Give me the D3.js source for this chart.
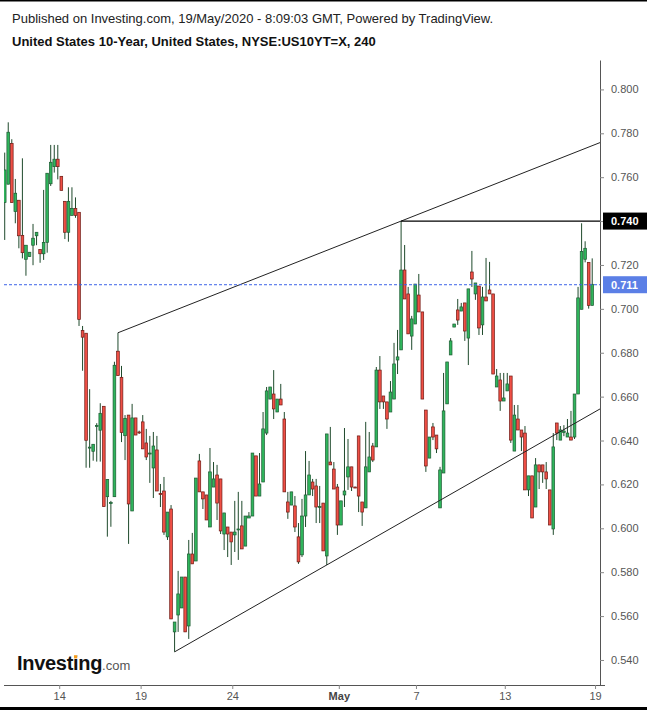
<!DOCTYPE html>
<html><head><meta charset="utf-8">
<script src="https://cdn.jsdelivr.net/npm/d3@7"></script>
<style>html,body{margin:0;padding:0;background:#fff;}svg{display:block;font-family:"Liberation Sans",Arial,sans-serif;}</style>
</head><body><svg id="chart" width="647" height="710"></svg>
<script>
// ---- Data (4-hour candles, US 10Y yield) ----
const opens=[0.7484,0.7568,0.7754,0.7443,0.7495,0.7335,0.7226,0.7238,0.7290,0.7333,0.7271,0.7251,0.7303,0.7570,0.7648,0.7682,0.7604,0.7490,0.7349,0.7426,0.7458,0.7440,0.6902,0.6889,0.6366,0.6351,0.6464,0.6447,0.6556,0.6144,0.6114,0.6144,0.6807,0.6688,0.6422,0.6516,0.6079,0.6503,0.6439,0.6485,0.6389,0.6340,0.6275,0.6357,0.6158,0.6170,0.5961,0.6088,0.5528,0.5605,0.5637,0.5778,0.5555,0.5883,0.5851,0.6307,0.6166,0.6152,0.6006,0.6188,0.6243,0.6225,0.5974,0.6006,0.5983,0.5970,0.5995,0.6011,0.5919,0.6047,0.6056,0.6330,0.6147,0.6211,0.6434,0.6589,0.6612,0.6530,0.6589,0.6498,0.6120,0.6106,0.6102,0.5961,0.5879,0.6056,0.6152,0.6211,0.6193,0.6097,0.6115,0.5874,0.6302,0.6270,0.6188,0.6015,0.6152,0.6234,0.6280,0.6188,0.6421,0.6120,0.6093,0.6257,0.6375,0.6371,0.6721,0.6603,0.6576,0.6530,0.6589,0.6767,0.6813,0.7177,0.7068,0.6876,0.6931,0.7063,0.6986,0.6539,0.6320,0.6462,0.6425,0.6093,0.6252,0.6567,0.6790,0.6917,0.6995,0.6990,0.7027,0.6867,0.7168,0.7068,0.7104,0.6927,0.7054,0.7086,0.7068,0.6644,0.6676,0.6580,0.6626,0.6694,0.6352,0.6498,0.6448,0.6434,0.6175,0.6239,0.6097,0.6289,0.6289,0.6257,0.6175,0.5997,0.6480,0.6402,0.6437,0.6416,0.6416,0.6416,0.6612,0.6998,0.7226,0.7212,0.7016];
const highs=[0.7712,0.7850,0.7773,0.7592,0.7495,0.7686,0.7290,0.7258,0.7387,0.7349,0.7271,0.7542,0.7618,0.7747,0.7747,0.7747,0.7604,0.7490,0.7554,0.7554,0.7508,0.7440,0.6922,0.6889,0.6634,0.6383,0.6479,0.6570,0.6556,0.6223,0.6125,0.6759,0.6891,0.6740,0.6516,0.6516,0.6567,0.6503,0.6445,0.6516,0.6453,0.6421,0.6439,0.6421,0.6202,0.6234,0.6074,0.6106,0.5573,0.5806,0.5778,0.5778,0.5947,0.5979,0.6229,0.6339,0.6166,0.6152,0.6366,0.6302,0.6289,0.6225,0.6070,0.6006,0.5983,0.6125,0.6166,0.6125,0.6056,0.6074,0.6343,0.6330,0.6343,0.6530,0.6644,0.6644,0.6721,0.6589,0.6658,0.6530,0.6166,0.6166,0.6147,0.6024,0.6134,0.6352,0.6307,0.6225,0.6225,0.6193,0.6115,0.6430,0.6462,0.6302,0.6202,0.6125,0.6457,0.6407,0.6280,0.6190,0.6421,0.6120,0.6485,0.6439,0.6389,0.6735,0.6785,0.6603,0.6576,0.6671,0.6845,0.6904,0.7400,0.7291,0.7100,0.6968,0.7113,0.7159,0.6986,0.6539,0.6416,0.6480,0.6425,0.6280,0.6708,0.6758,0.6867,0.6931,0.7045,0.7027,0.7027,0.7091,0.7264,0.7118,0.7104,0.7100,0.7232,0.7214,0.7068,0.6726,0.6708,0.6708,0.6708,0.6694,0.6562,0.6562,0.6448,0.6466,0.6239,0.6239,0.6320,0.6289,0.6289,0.6302,0.6175,0.6434,0.6480,0.6466,0.6470,0.6498,0.6535,0.6612,0.7100,0.7390,0.7308,0.7212,0.7230];
const lows=[0.7314,0.7568,0.7484,0.7390,0.7276,0.7230,0.7151,0.7238,0.7199,0.7290,0.7210,0.7223,0.7256,0.7560,0.7621,0.7590,0.7540,0.7318,0.7306,0.7426,0.7415,0.6922,0.6718,0.6276,0.6276,0.6308,0.6304,0.6304,0.6099,0.5962,0.6007,0.6144,0.6696,0.6393,0.6311,0.5929,0.6079,0.6425,0.6430,0.6362,0.6311,0.6207,0.6138,0.6170,0.6097,0.5970,0.5947,0.5587,0.5437,0.5528,0.5637,0.5528,0.5496,0.5838,0.5851,0.6166,0.6088,0.6038,0.6006,0.6188,0.6038,0.5974,0.5901,0.5869,0.5833,0.5892,0.5856,0.5906,0.5919,0.6047,0.6056,0.6147,0.6147,0.6211,0.6425,0.6589,0.6498,0.6530,0.6562,0.6166,0.6043,0.6106,0.5983,0.5838,0.5869,0.6006,0.6152,0.6147,0.6024,0.6024,0.5897,0.5833,0.6289,0.6179,0.5970,0.6015,0.6097,0.6175,0.6170,0.6184,0.6074,0.6011,0.6093,0.6257,0.6302,0.6371,0.6544,0.6544,0.6453,0.6530,0.6589,0.6703,0.6813,0.7045,0.6886,0.6813,0.6931,0.6986,0.6589,0.6257,0.6320,0.6402,0.6343,0.6093,0.6252,0.6567,0.6790,0.6917,0.6927,0.6990,0.6854,0.6744,0.7100,0.7041,0.6881,0.6881,0.7036,0.7068,0.6703,0.6644,0.6535,0.6580,0.6626,0.6389,0.6352,0.6448,0.6352,0.6175,0.6147,0.6047,0.6097,0.6179,0.6207,0.6179,0.6015,0.5970,0.6402,0.6402,0.6420,0.6416,0.6402,0.6407,0.6612,0.6998,0.7212,0.7001,0.7016];
const closes=[0.7633,0.7805,0.7484,0.7527,0.7333,0.7256,0.7290,0.7258,0.7322,0.7349,0.7251,0.7303,0.7618,0.7668,0.7682,0.7648,0.7540,0.7349,0.7490,0.7458,0.7426,0.6952,0.6871,0.6401,0.6370,0.6383,0.6468,0.6524,0.6099,0.6223,0.6117,0.6743,0.6696,0.6436,0.6501,0.6111,0.6503,0.6425,0.6435,0.6362,0.6325,0.6343,0.6375,0.6170,0.6156,0.5983,0.6074,0.5587,0.5573,0.5701,0.5778,0.5528,0.5883,0.5838,0.6229,0.6166,0.6134,0.6038,0.6257,0.6225,0.6115,0.5988,0.6070,0.5974,0.5938,0.5983,0.5997,0.5906,0.6056,0.6056,0.6343,0.6147,0.6202,0.6453,0.6626,0.6644,0.6544,0.6589,0.6562,0.6166,0.6074,0.6166,0.6006,0.5847,0.6056,0.6152,0.6243,0.6179,0.6097,0.6099,0.5897,0.6430,0.6289,0.6179,0.6015,0.6125,0.6170,0.6280,0.6188,0.6186,0.6147,0.6074,0.6280,0.6325,0.6311,0.6721,0.6576,0.6576,0.6498,0.6621,0.6749,0.6781,0.7177,0.7045,0.6886,0.6954,0.7113,0.6986,0.6589,0.6284,0.6416,0.6416,0.6362,0.6266,0.6535,0.6758,0.6854,0.6931,0.6949,0.7009,0.6899,0.7091,0.7136,0.7118,0.6913,0.7054,0.7036,0.7068,0.6703,0.6694,0.6580,0.6594,0.6658,0.6402,0.6516,0.6448,0.6416,0.6175,0.6239,0.6047,0.6289,0.6257,0.6257,0.6225,0.6015,0.6371,0.6434,0.6448,0.6443,0.6434,0.6402,0.6612,0.7050,0.7262,0.7276,0.7016,0.7112];

const xTickIndex=[15.4,38.4,64.3,94.4,116.2,141.3,166.8];
const xTickLabels=["14","19","24","May","7","13","19"];
const yTickValues=[0.54,0.56,0.58,0.60,0.62,0.64,0.66,0.68,0.70,0.72,0.74,0.76,0.78,0.80];
const lastPrice=0.711;
const resistanceLevel=0.740, resistanceStartIndex=112;
const upperTrend=[[32,0.6891],[112,0.7400]];
const lowerTrend=[[48,0.5437],[91,0.5833]];
const titleLine1="Published on Investing.com, 19/May/2020 - 8:09:03 GMT, Powered by TradingView.";
const titleLine2="United States 10-Year, United States, NYSE:US10YT=X, 240";

// ---- Layout ----
const W=647,H=710;
const plotL=0, plotR=600, plotT=60, plotB=685;
const svg=d3.select("#chart");
const candles=opens.map((o,i)=>({i,o,h:highs[i],l:lows[i],c:closes[i]}));

const x=d3.scaleLinear().domain([-1.33,168.2]).range([plotL,plotR]);
const y=d3.scaleLinear().domain([0.5286,0.8134]).range([plotB,plotT]);

// borders
svg.append("rect").attr("x",0).attr("y",0).attr("width",W).attr("height",1.5).attr("fill","#000");
svg.append("rect").attr("x",0).attr("y",707).attr("width",W).attr("height",3).attr("fill","#000");

// titles
svg.append("text").attr("x",12).attr("y",23).attr("font-size",13).attr("fill","#222").text(titleLine1);
svg.append("text").attr("x",12).attr("y",46).attr("font-size",13).attr("font-weight","bold").attr("fill","#111").text(titleLine2);

svg.append("defs").append("clipPath").attr("id","plotclip").append("rect")
  .attr("x",4).attr("y",plotT).attr("width",plotR-4).attr("height",plotB-plotT);
const g=svg.append("g").attr("clip-path","url(#plotclip)");

// candles
const bw=2.7;
const cg=g.append("g");
cg.selectAll("line.wick").data(candles).join("line").attr("class","wick")
  .attr("x1",d=>x(d.i)).attr("x2",d=>x(d.i))
  .attr("y1",d=>y(d.h)).attr("y2",d=>y(d.l))
  .attr("stroke","#1f4a2c").attr("stroke-width",1);
cg.selectAll("rect.body").data(candles).join("rect").attr("class","body")
  .attr("x",d=>x(d.i)-bw/2).attr("width",bw)
  .attr("y",d=>y(Math.max(d.o,d.c)))
  .attr("height",d=>Math.max(1,Math.abs(y(d.o)-y(d.c))))
  .attr("fill",d=>d.c>=d.o?"#2fb55c":"#ef4f45")
  .attr("stroke",d=>d.c>=d.o?"#1d5a32":"#6e1a14").attr("stroke-width",0.7);

// trend lines extended to right edge
function extend(pts){
  const [a,b]=pts; const slope=(b[1]-a[1])/(b[0]-a[0]);
  const iEnd=x.invert(plotR);
  return [a,[iEnd,a[1]+slope*(iEnd-a[0])]];
}
const line=d3.line().x(d=>x(d[0])).y(d=>y(d[1]));
g.append("path").attr("d",line(extend(upperTrend))).attr("stroke","#222").attr("stroke-width",1).attr("fill","none");
g.append("path").attr("d",line(extend(lowerTrend))).attr("stroke","#222").attr("stroke-width",1).attr("fill","none");
g.append("path").attr("d",line([[resistanceStartIndex,resistanceLevel],[x.invert(plotR),resistanceLevel]]))
  .attr("stroke","#000").attr("stroke-width",1.3).attr("fill","none");

// last price dashed line
svg.append("line").attr("x1",4).attr("x2",plotR).attr("y1",y(lastPrice)).attr("y2",y(lastPrice))
  .attr("stroke","#3d63e8").attr("stroke-width",1).attr("stroke-dasharray","3,2");

// axes
const fmt=d3.format(".3f");
const yAxis=svg.append("g").attr("transform",`translate(${plotR},0)`)
  .call(d3.axisRight(y).tickValues(yTickValues).tickFormat(fmt).tickSize(4).tickPadding(7).tickSizeOuter(0));
yAxis.select(".domain").attr("stroke","#555");
yAxis.selectAll(".tick line").attr("stroke","#888");
yAxis.selectAll(".tick text").attr("fill","#555").attr("font-size",11).attr("font-family","Liberation Sans, Arial, sans-serif");

const xAxis=svg.append("g").attr("transform",`translate(0,${plotB})`)
  .call(d3.axisBottom(x).tickValues(xTickIndex).tickFormat((d,i)=>xTickLabels[i]).tickSize(4).tickPadding(3).tickSizeOuter(0));
xAxis.select(".domain").attr("stroke","#555").attr("d",`M4,0.5H${plotR+5}`);
xAxis.selectAll(".tick line").attr("stroke","#888");
xAxis.selectAll(".tick text").attr("fill","#555").attr("font-size",11).attr("font-family","Liberation Sans, Arial, sans-serif")
  .attr("font-weight",(d,i)=>xTickLabels[i]==="May"?"bold":"normal")
  .attr("fill",(d,i)=>xTickLabels[i]==="May"?"#444":"#555");

// price labels on axis
function priceTag(v,bg){
  const gy=y(v);
  svg.append("rect").attr("x",plotR+3).attr("y",gy-8.5).attr("width",W-plotR-3).attr("height",17).attr("fill",bg);
  svg.append("text").attr("x",plotR+11).attr("y",gy+4).attr("font-size",11).attr("font-weight","bold")
    .attr("fill","#fff").text(fmt(v));
}
priceTag(resistanceLevel,"#000");
priceTag(lastPrice,"#5b7fe6");

// logo
const logo=svg.append("text").attr("x",17).attr("y",670).attr("font-size",20).attr("font-weight","bold").attr("fill","#111").attr("letter-spacing","-0.3");
logo.append("tspan").text("Investing");
logo.append("tspan").attr("font-size",13).attr("font-weight","normal").attr("fill","#555").attr("letter-spacing","0").text(".com");
try{
  const tnode=logo.node();
  const s=tnode.getStartPositionOfChar(6), e=tnode.getEndPositionOfChar(6);
  const cx=(s.x+e.x)/2;
  svg.append("rect").attr("x",cx-1.9).attr("y",670-15.2).attr("width",3.8).attr("height",3.8).attr("fill","#fff");
  svg.append("rect").attr("x",cx-1.6).attr("y",670-14.8).attr("width",3.2).attr("height",3.2).attr("fill","#f49a1b");
}catch(err){}
</script></body></html>
